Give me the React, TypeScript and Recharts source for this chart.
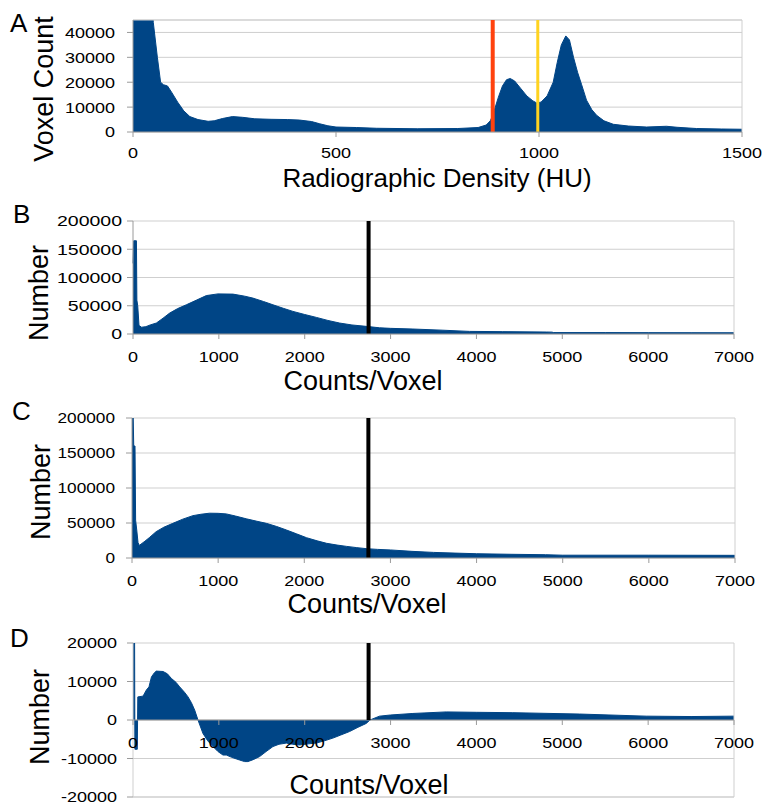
import React from 'react';
import { AreaChart, Area, XAxis, YAxis, CartesianGrid, ReferenceLine } from 'recharts';

// ---------- Panel A: radiographic density histogram ----------
const huValues = [0, 45, 50, 60, 68, 75, 85, 95, 110, 125, 140, 160, 185, 200, 220, 245, 270, 300, 340, 380, 410, 440, 460, 480, 500, 550, 600, 700, 800, 850, 870, 880, 886, 900, 910, 920, 929, 940, 955, 970, 985, 994, 1005, 1020, 1035, 1045, 1055, 1066, 1075, 1085, 1095, 1105, 1117, 1130, 1142, 1160, 1183, 1220, 1265, 1314, 1340, 1388, 1450, 1500];
const voxelCounts = [55000, 55000, 44000, 30000, 20000, 19000, 18500, 16000, 12000, 8500, 6200, 5000, 4300, 4500, 5400, 6200, 5900, 5300, 5100, 5000, 4800, 4200, 3300, 2500, 2000, 1800, 1500, 1300, 1400, 1800, 2800, 4500, 6700, 14000, 18500, 21000, 21500, 20500, 17500, 14500, 12500, 11700, 12000, 14500, 20000, 28000, 35000, 38600, 37000, 30000, 24000, 19000, 12800, 9000, 6700, 4500, 3100, 2400, 2000, 2300, 1900, 1400, 1200, 1100];
const aXTicks = [0, 500, 1000, 1500];
const aYTicks = [0, 10000, 20000, 30000, 40000];
const aRedLine = 886;
const aYellowLine = 997;

// ---------- Panel B ----------
const bCounts = [0, 8, 40, 45, 55, 70, 100, 150, 200, 272, 350, 427, 520, 621, 740, 854, 990, 1164, 1300, 1397, 1520, 1630, 1750, 1863, 2000, 2135, 2270, 2406, 2550, 2717, 2872, 3000, 3260, 3600, 3920, 4300, 4813, 4880, 4900, 5500, 6000, 6500, 7000];
const bNumber = [125000, 165000, 165000, 60000, 50000, 15000, 12000, 13000, 16000, 19400, 28000, 37000, 45000, 51700, 60000, 68000, 71000, 70600, 67000, 63500, 57500, 51700, 45500, 40000, 34500, 29400, 24000, 19400, 16000, 13500, 11000, 10000, 8800, 6800, 4600, 4200, 3500, 3300, 2500, 2500, 2400, 2300, 2200];

// ---------- Panel C ----------
const cCounts = [0, 12, 20, 35, 42, 55, 70, 85, 150, 200, 280, 370, 474, 590, 707, 800, 900, 1000, 1094, 1200, 1327, 1450, 1560, 1680, 1793, 1910, 2026, 2150, 2259, 2380, 2492, 2610, 2725, 2850, 3000, 3250, 3500, 3750, 4000, 4400, 4800, 5000, 6000, 7000];
const cNumber = [215000, 215000, 160000, 160000, 54000, 40000, 22000, 18000, 24000, 29000, 37600, 44000, 49500, 55500, 60500, 62500, 64000, 63800, 63000, 60000, 56000, 52500, 49500, 45000, 40000, 34500, 29000, 24500, 21000, 18500, 16600, 14800, 13300, 12300, 11500, 9500, 8000, 7000, 6100, 5300, 4700, 4000, 4000, 3800];

// ---------- Panel D ----------
const dCounts = [0, 18, 22, 50, 56, 117, 156, 186, 215, 250, 272, 350, 400, 447, 500, 544, 600, 641, 680, 718, 757, 815, 870, 932, 990, 1048, 1087, 1150, 1242, 1300, 1339, 1400, 1475, 1550, 1630, 1700, 1785, 1860, 1940, 2040, 2134, 2230, 2328, 2420, 2522, 2620, 2716, 2760, 2871, 3000, 3260, 3648, 4000, 4424, 5200, 5977, 6500, 7000];
const dNumber = [25000, 25000, -7600, -7600, 6000, 6200, 7800, 8600, 11200, 12300, 12700, 12600, 12000, 10800, 9800, 8600, 7200, 6000, 4500, 2600, 0, -3500, -5400, -6900, -8200, -9100, -9100, -9700, -10400, -10800, -10800, -10300, -9500, -8200, -6900, -6300, -6000, -6300, -6500, -6200, -6000, -5400, -4700, -3900, -3000, -1900, -900, 0, 1000, 1300, 1700, 2100, 2000, 1900, 1550, 1000, 900, 1000];

const countTicks = [0, 1000, 2000, 3000, 4000, 5000, 6000, 7000];
const bcYTicks = [0, 50000, 100000, 150000, 200000];
const dYTicks = [-20000, -10000, 0, 10000, 20000];
const thresholdLine = 2744;

const FONT = '"Liberation Sans", Arial, Helvetica, sans-serif';
const BLUE = '#004586';
const GRID = '#cfcfcf';
const TICKC = '#9a9a9a';
const TICK_FS = 15;

const toRows = (xs: number[], ys: number[]) => xs.map((x, i) => ({ x, v: ys[i] }));
const dataA = toRows(huValues, voxelCounts);
const dataB = toRows(bCounts, bNumber);
const dataC = toRows(cCounts, cNumber);
const dataD = toRows(dCounts, dNumber);

const YTick = (sx: number) => (props: any) => {
  const { x, y, payload } = props;
  return (
    <text transform={`translate(${x},${y + TICK_FS * 0.36}) scale(${sx},1)`} textAnchor="end" fontSize={TICK_FS} fontFamily={FONT} fill="#000">
      {payload.value}
    </text>
  );
};

const XTick = (sx: number) => (props: any) => {
  const { x, y, payload } = props;
  return (
    <text transform={`translate(${x},${y + TICK_FS * 0.36}) scale(${sx},1)`} textAnchor="middle" fontSize={TICK_FS} fontFamily={FONT} fill="#000">
      {payload.value}
    </text>
  );
};

const Titles = (o: { letter: string; lx: number; ly: number; yTitle: string; ytx: number; yty: number; xTitle: string; xtx: number; xty: number; fs: number }) => () => (
  <g fontFamily={FONT} fill="#000">
    <text x={o.lx} y={o.ly} fontSize={26}>{o.letter}</text>
    <text transform={`translate(${o.ytx},${o.yty}) rotate(-90)`} textAnchor="middle" fontSize={27}>{o.yTitle}</text>
    <text x={o.xtx} y={o.xty} textAnchor="middle" fontSize={o.fs}>{o.xTitle}</text>
  </g>
);

const W = 763;

// Panel D geometry for the zero-line x axis
const D_MIN = -20000;
const D_MAX = 20000;
const D_PLOT_H = 154;
const D_ZERO_OFFSET = (D_PLOT_H * (0 - D_MIN)) / (D_MAX - D_MIN);

const DXTick = (props: any) => {
  const { x, y, payload } = props;
  const zy = y - D_ZERO_OFFSET;
  return (
    <g>
      <line x1={x} x2={x} y1={zy} y2={zy + 5} stroke={TICKC} />
      <text transform={`translate(${x},${zy + 23 + TICK_FS * 0.36}) scale(1.2,1)`} textAnchor="middle" fontSize={TICK_FS} fontFamily={FONT} fill="#000">
        {payload.value}
      </text>
    </g>
  );
};

export default function App() {
  return (
    <div style={{ position: 'absolute', left: 0, top: 0, width: W, height: 805, background: '#fff' }}>
      {/* Panel A */}
      <div style={{ position: 'absolute', left: 0, top: 0 }}>
        <AreaChart width={W} height={200} data={dataA} margin={{ top: 20, right: 21, left: 0, bottom: 0 }}>
          <CartesianGrid vertical={false} stroke={GRID} />
          <XAxis dataKey="x" type="number" domain={[0, 1500]} ticks={aXTicks} interval={0} height={68} tickSize={5} tickMargin={16} stroke={TICKC} tick={XTick(1.2)} />
          <YAxis type="number" domain={[0, 45000]} ticks={aYTicks} interval={0} allowDataOverflow width={133} tickSize={6} tickMargin={12} stroke={TICKC} tick={YTick(1.2)}
            label={{ content: Titles({ letter: 'A', lx: 10, ly: 32, yTitle: 'Voxel Count', ytx: 53, yty: 89, xTitle: 'Radiographic Density (HU)', xtx: 437, xty: 187, fs: 26 }) }} />
          <ReferenceLine y={45000} stroke={GRID} />
          <ReferenceLine x={1500} stroke={GRID} />
          <Area type="linear" dataKey="v" stroke={BLUE} fill={BLUE} fillOpacity={1} isAnimationActive={false} dot={false} activeDot={false} baseValue={0} />
          <ReferenceLine x={aRedLine} stroke="#ff420e" strokeWidth={4} />
          <ReferenceLine x={aYellowLine} stroke="#ffd320" strokeWidth={3} />
        </AreaChart>
      </div>

      {/* Panel B */}
      <div style={{ position: 'absolute', left: 0, top: 200 }}>
        <AreaChart width={W} height={195} data={dataB} margin={{ top: 21, right: 29, left: 0, bottom: 0 }}>
          <CartesianGrid vertical={false} stroke={GRID} />
          <XAxis dataKey="x" type="number" domain={[0, 7000]} ticks={countTicks} interval={0} height={61} tickSize={5} tickMargin={18} stroke={TICKC} tick={XTick(1.2)} />
          <YAxis type="number" domain={[0, 200000]} ticks={bcYTicks} interval={0} allowDataOverflow width={133} tickSize={6} tickMargin={5} stroke={TICKC} tick={YTick(1.3)}
            label={{ content: Titles({ letter: 'B', lx: 13, ly: 23, yTitle: 'Number', ytx: 48, yty: 93, xTitle: 'Counts/Voxel', xtx: 363, xty: 190, fs: 27 }) }} />
          <ReferenceLine x={7000} stroke={GRID} />
          <Area type="linear" dataKey="v" stroke={BLUE} fill={BLUE} fillOpacity={1} isAnimationActive={false} dot={false} activeDot={false} baseValue={0} />
          <ReferenceLine x={thresholdLine} stroke="#000" strokeWidth={4} />
        </AreaChart>
      </div>

      {/* Panel C */}
      <div style={{ position: 'absolute', left: 0, top: 395 }}>
        <AreaChart width={W} height={225} data={dataC} margin={{ top: 23, right: 28, left: 0, bottom: 0 }}>
          <CartesianGrid vertical={false} stroke={GRID} />
          <XAxis dataKey="x" type="number" domain={[0, 7000]} ticks={countTicks} interval={0} height={62} tickSize={5} tickMargin={18} stroke={TICKC} tick={XTick(1.2)} />
          <YAxis type="number" domain={[0, 200000]} ticks={bcYTicks} interval={0} allowDataOverflow width={132} tickSize={6} tickMargin={11} stroke={TICKC} tick={YTick(1.15)}
            label={{ content: Titles({ letter: 'C', lx: 12, ly: 25, yTitle: 'Number', ytx: 50, yty: 97, xTitle: 'Counts/Voxel', xtx: 367, xty: 218, fs: 27 }) }} />
          <ReferenceLine x={7000} stroke={GRID} />
          <Area type="linear" dataKey="v" stroke={BLUE} fill={BLUE} fillOpacity={1} isAnimationActive={false} dot={false} activeDot={false} baseValue={0} />
          <ReferenceLine x={thresholdLine} stroke="#000" strokeWidth={4} />
        </AreaChart>
      </div>

      {/* Panel D */}
      <div style={{ position: 'absolute', left: 0, top: 620 }}>
        <AreaChart width={W} height={185} data={dataD} margin={{ top: 23, right: 29, left: 0, bottom: 0 }}>
          <CartesianGrid vertical={false} stroke={GRID} />
          <YAxis type="number" domain={[D_MIN, D_MAX]} ticks={dYTicks} interval={0} allowDataOverflow width={133} tickSize={6} tickMargin={10} stroke={GRID} tickLine={{ stroke: TICKC }} tick={YTick(1.2)}
            label={{ content: Titles({ letter: 'D', lx: 10, ly: 27, yTitle: 'Number', ytx: 49, yty: 97, xTitle: 'Counts/Voxel', xtx: 369, xty: 174, fs: 27 }) }} />
          <ReferenceLine x={7000} stroke={GRID} />
          <ReferenceLine y={0} stroke={TICKC} />
          <Area type="linear" dataKey="v" stroke={BLUE} fill={BLUE} fillOpacity={1} isAnimationActive={false} dot={false} activeDot={false} baseValue={0} />
          <ReferenceLine segment={[{ x: thresholdLine, y: 0 }, { x: thresholdLine, y: D_MAX }]} stroke="#000" strokeWidth={4} />
          <XAxis dataKey="x" type="number" domain={[0, 7000]} ticks={countTicks} interval={0} height={8} tickSize={0} tickMargin={0} stroke={GRID} tick={DXTick} />
        </AreaChart>
      </div>
    </div>
  );
}
